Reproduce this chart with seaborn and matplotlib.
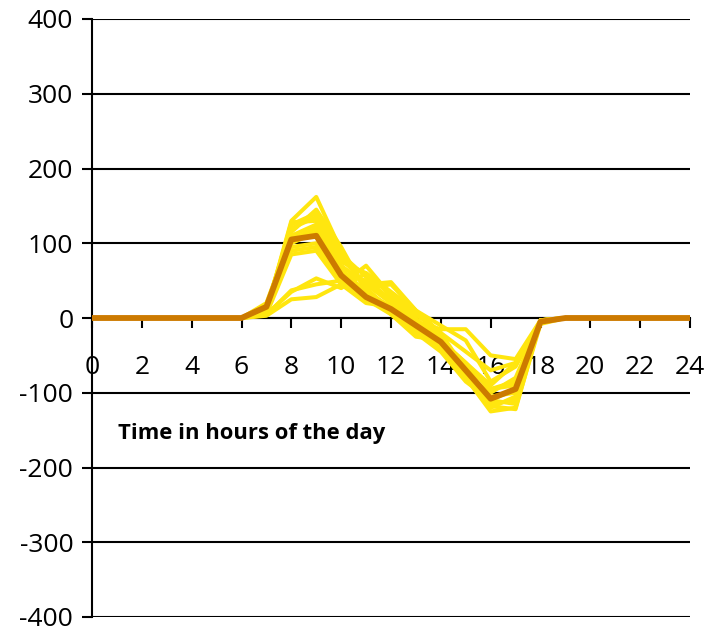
import numpy as np
import pandas as pd
import matplotlib
matplotlib.use("Agg")
import matplotlib.pyplot as plt
import seaborn as sns

# Hour of the day
hours = list(range(25))

# Active hours carry the profile; every other hour is zero
active_hours = list(range(7, 19))

# Individual daily profiles (hours 7..18)
profiles = {
    "p01": [10, 130, 162, 90, 40, 10, -5, -30, -60, -90, -60, -5],
    "p02": [12, 125, 140, 85, 55, 20, -10, -35, -75, -115, -110, -3],
    "p03": [15, 120, 135, 75, 60, 30, 5, -20, -70, -120, -105, -5],
    "p04": [8, 128, 130, 70, 45, 48, 10, -30, -80, -125, -120, -8],
    "p05": [20, 110, 125, 65, 35, 15, -5, -25, -70, -110, -95, -5],
    "p06": [18, 100, 115, 60, 50, 25, 0, -35, -75, -100, -80, -3],
    "p07": [15, 95, 100, 55, 30, 10, -15, -40, -80, -105, -100, -5],
    "p08": [12, 90, 95, 50, 25, 5, -20, -45, -85, -110, -115, -3],
    "p09": [5, 85, 90, 45, 20, 15, -10, -35, -65, -95, -90, -5],
    "p10": [5, 35, 53, 40, 60, 35, 10, -20, -45, -70, -60, -5],
    "p11": [3, 25, 28, 45, 70, 30, -5, -15, -15, -50, -55, -3],
    "p12": [4, 37, 45, 50, 40, 45, 10, -10, -30, -85, -65, -3],
    "p13": [10, 115, 145, 95, 35, 5, -25, -30, -60, -95, -85, -5],
    "p14": [14, 105, 120, 80, 45, 20, -5, -28, -72, -118, -122, -4],
}

# Average profile (hours 7..18)
average = [15, 105, 110, 57, 28, 12, -10, -32, -70, -108, -95, -5]

y_ticks = [-400, -300, -200, -100, 0, 100, 200, 300, 400]
x_ticks = list(range(0, 25, 2))
x_label = "Time in hours of the day"


def full_day(values):
    day = [0.0] * len(hours)
    for h, v in zip(active_hours, values):
        day[h] = v
    return day


rows = []
for name, vals in profiles.items():
    for h, v in zip(hours, full_day(vals)):
        rows.append({"hour": h, "value": v, "series": name})
df = pd.DataFrame(rows)
df_avg = pd.DataFrame({"hour": hours, "value": full_day(average)})

sns.set_theme(style="white")
plt.rcParams["font.family"] = ["Open Sans", "DejaVu Sans"]

fig = plt.figure(figsize=(7.08, 6.31), dpi=100)
ax = fig.add_axes([92 / 708, 1 - 617 / 631, (690 - 92) / 708, (617 - 19) / 631])

sns.lineplot(data=df, x="hour", y="value", units="series", estimator=None,
             color="#FFE60F", lw=2.9, ax=ax, zorder=3)
sns.lineplot(data=df_avg, x="hour", y="value", color="#CC7A00", lw=4.2,
             ax=ax, zorder=4)

ax.set_xlim(0, 24)
ax.set_ylim(-400, 400)
ax.set_yticks(y_ticks)
ax.set_yticklabels([str(t) for t in y_ticks])
ax.set_xticks(x_ticks)
ax.set_xticklabels([str(t) for t in x_ticks])

for y in y_ticks:
    ax.axhline(y, color="black", lw=1.5, zorder=1)

for s in ["top", "right"]:
    ax.spines[s].set_visible(False)
ax.spines["left"].set_color("black")
ax.spines["left"].set_linewidth(1.5)
ax.spines["bottom"].set_position(("data", 0))
ax.spines["bottom"].set_color("black")
ax.spines["bottom"].set_linewidth(1.5)

ax.tick_params(axis="y", direction="out", length=7.5, width=1.5, color="black",
               labelsize=19, pad=6, left=True, labelcolor="black")
ax.tick_params(axis="x", direction="out", length=7.5, width=1.5, color="black",
               labelsize=19, pad=19, bottom=True, labelcolor="black")
ax.set_xlabel("")
ax.set_ylabel("")

ax.text(1.05, -155, x_label, fontsize=15.8, fontweight="bold", color="black",
        ha="left", va="center")

fig.savefig("out.png", dpi=100)
